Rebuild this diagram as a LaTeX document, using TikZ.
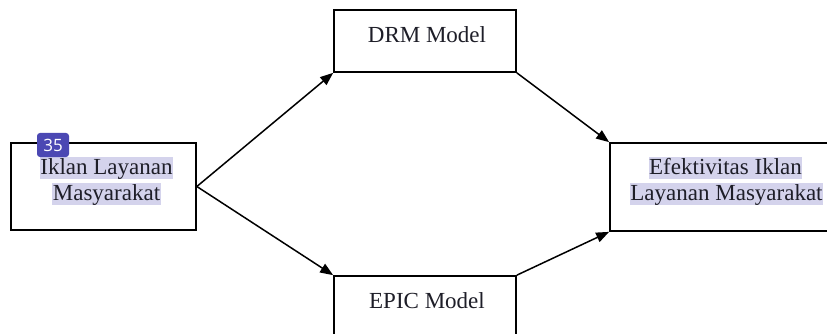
\documentclass[tikz,border=0pt]{standalone}
\usepackage{fontspec}
\setmainfont{Liberation Serif}
\newfontfamily\badgefont{Open Sans}
\usetikzlibrary{arrows.meta}
\definecolor{hl}{HTML}{D4D3EC}
\definecolor{badge}{HTML}{4B48B3}
\definecolor{ink}{HTML}{1E1E28}
\tikzset{
  box/.style={draw=black, line width=1.7pt, minimum width=#1, inner sep=0pt},
  lbl/.style={anchor=base, inner sep=0pt, text=ink, font=\fontsize{23}{25}\selectfont},
  hlbl/.style={lbl, fill=hl, inner xsep=0.5pt, text height=17pt, text depth=5pt},
  arr/.style={line width=1.5pt, -{Triangle[length=13pt,width=10pt]}},
}
\begin{document}
\begin{tikzpicture}[x=1pt,y=-1pt]
\useasboundingbox (0,0) rectangle (827,334);
\clip (0,0) rectangle (827,334);
\fill[white] (0,0) rectangle (827,334);
% boxes
\node[box=185pt, minimum height=87pt] (iklan) at (103.5,186.5) {};
\node[box=182pt, minimum height=62pt] (drm) at (425,41) {};
\node[box=182pt, minimum height=74pt] (epic) at (425,313) {};
\node[box=230pt, minimum height=88pt] (efek) at (725,187) {};
% texts
\node[lbl] (drmt) at (427,43) {DRM Model};
\node[lbl] (epict) at (427,308) {EPIC Model};
\node[hlbl] (ik1) at (106.5,174) {Iklan Layanan};
\node[hlbl] (ik2) at (106.5,200) {Masyarakat};
\node[hlbl] (ef1) at (725.5,174) {Efektivitas Iklan};
\node[hlbl] (ef2) at (726.5,200) {Layanan Masyarakat};
% connectors
\draw[arr] (iklan.east) -- (drm.south west);
\draw[arr] (iklan.east) -- (epic.north west);
\draw[arr] (drm.south east) -- (efek.north west);
\draw[arr] (epic.north east) -- (efek.south west);
% badge
\node[fill=badge, rounded corners=3pt, minimum width=32pt, minimum height=24pt, inner sep=0pt,
      text=white, font=\badgefont\fontsize{17}{17}\selectfont] (badge) at (53,145) {35};
\end{tikzpicture}
\end{document}
